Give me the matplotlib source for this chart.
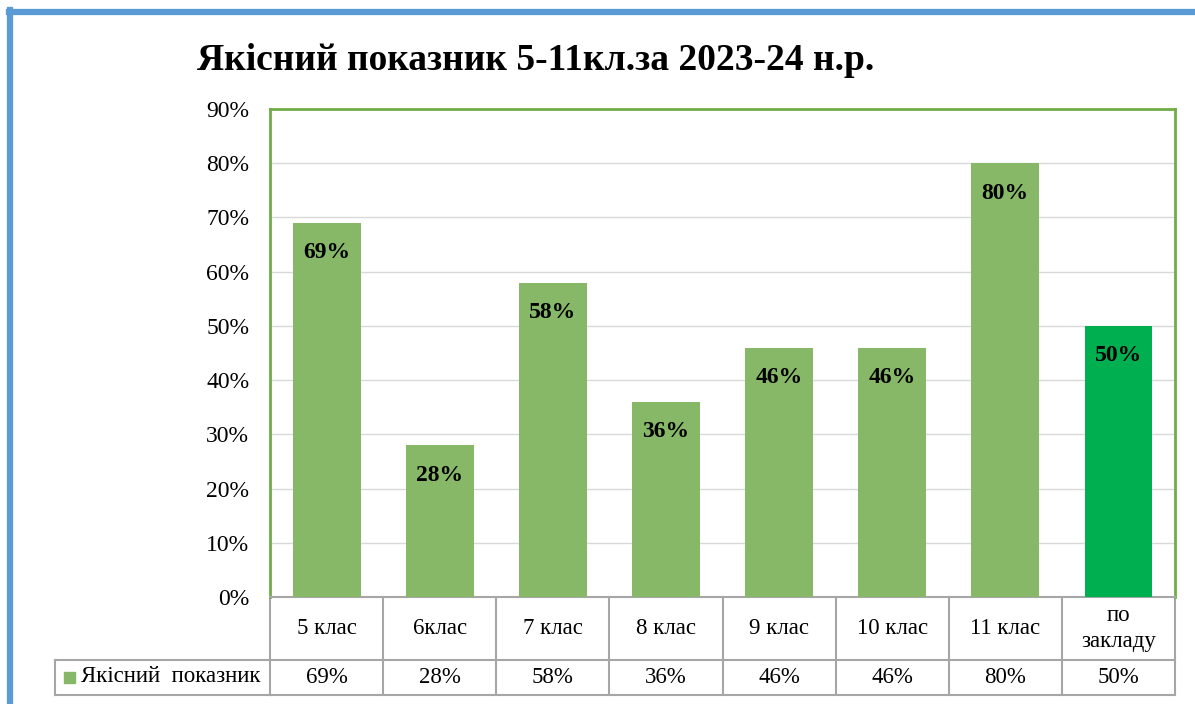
import matplotlib
matplotlib.use('Agg')
import matplotlib.pyplot as plt
from matplotlib.lines import Line2D
from matplotlib.patches import Rectangle

plt.rcParams['font.family'] = ['Liberation Serif', 'DejaVu Serif']

# data
categories = ["5 клас", "6клас", "7 клас", "8 клас", "9 клас", "10 клас", "11 клас", "по\nзакладу"]
values = [69, 28, 58, 36, 46, 46, 80, 50]
series_name = "Якісний  показник"
title = "Якісний показник 5-11кл.за 2023-24 н.р."

bar_colors = ["#86B867"] * 7 + ["#00B050"]
grid_col = "#D9D9D9"
table_col = "#A6A6A6"

W, H = 1195, 704
fig = plt.figure(figsize=(W / 100, H / 100), dpi=100)

# plot area in pixels
left, right, top, bottom = 270, 1175, 109, 597
ax = fig.add_axes([left / W, 1 - bottom / H, (right - left) / W, (bottom - top) / H])

x = range(len(categories))
ax.bar(x, values, width=0.6, color=bar_colors, zorder=3)
ax.set_xlim(-0.5, len(categories) - 0.5)
ax.set_ylim(0, 90)
ax.set_yticks(range(0, 91, 10))
ax.set_yticklabels([f"{v}%" for v in range(0, 91, 10)], fontsize=17)
ax.tick_params(axis='y', length=0, pad=15)
ax.set_xticks([])
ax.grid(axis='y', color=grid_col, linewidth=1, zorder=0)

for side in ['top', 'left', 'right']:
    ax.spines[side].set_color("#70AD47")
    ax.spines[side].set_linewidth(2)
ax.spines['bottom'].set_color(table_col)
ax.spines['bottom'].set_linewidth(1.5)

for i, v in enumerate(values):
    ax.annotate(f"{v}%", (i, v), xytext=(0, -21.5), textcoords='offset points',
                ha='center', va='center', fontsize=17, fontweight='bold', zorder=4)

# data table under the plot
ph = bottom - top
row1 = -(660 - bottom) / ph
row2 = -(695 - bottom) / ph
leg_left = (55 - left) / (right - left)
tr = ax.get_xaxis_transform()
lkw = dict(color=table_col, linewidth=1.5, clip_on=False)

n = len(categories)
for k in range(n + 1):
    ax.plot([k - 0.5, k - 0.5], [0, row2], transform=tr, **lkw)
ax.plot([-0.5, n - 0.5], [row1, row1], transform=tr, **lkw)
ax.plot([-0.5, n - 0.5], [row2, row2], transform=tr, **lkw)
ax.plot([leg_left, 0], [row1, row1], transform=ax.transAxes, **lkw)
ax.plot([leg_left, 0], [row2, row2], transform=ax.transAxes, **lkw)
ax.plot([leg_left, leg_left], [row1, row2], transform=ax.transAxes, **lkw)

for i, c in enumerate(categories):
    ax.text(i, row1 / 2, c, transform=tr, ha='center', va='center', fontsize=16.5,
            linespacing=1.3)
    ax.text(i, (row1 + row2) / 2, f"{values[i]}%", transform=tr, ha='center',
            va='center', fontsize=16.5)

# legend key in table
fig.patches.append(Rectangle((64 / W, 1 - 683 / H), 11 / W, 11 / H,
                             transform=fig.transFigure, color="#86B867"))
fig.text(81 / W, 1 - 677 / H, series_name, fontsize=16.5, ha='left', va='center')

fig.text(536 / W, 1 - 60 / H, title, fontsize=27, fontweight='bold',
         ha='center', va='center')

# blue frame on top and left
fig.add_artist(Line2D([10 / W, 10 / W], [0, 1 - 10 / H], color="#5B9BD5",
                      linewidth=4.5, transform=fig.transFigure))
fig.add_artist(Line2D([8.5 / W, 1], [1 - 12 / H, 1 - 12 / H], color="#5B9BD5",
                      linewidth=4.5, transform=fig.transFigure))

fig.savefig("out.png", dpi=100)
